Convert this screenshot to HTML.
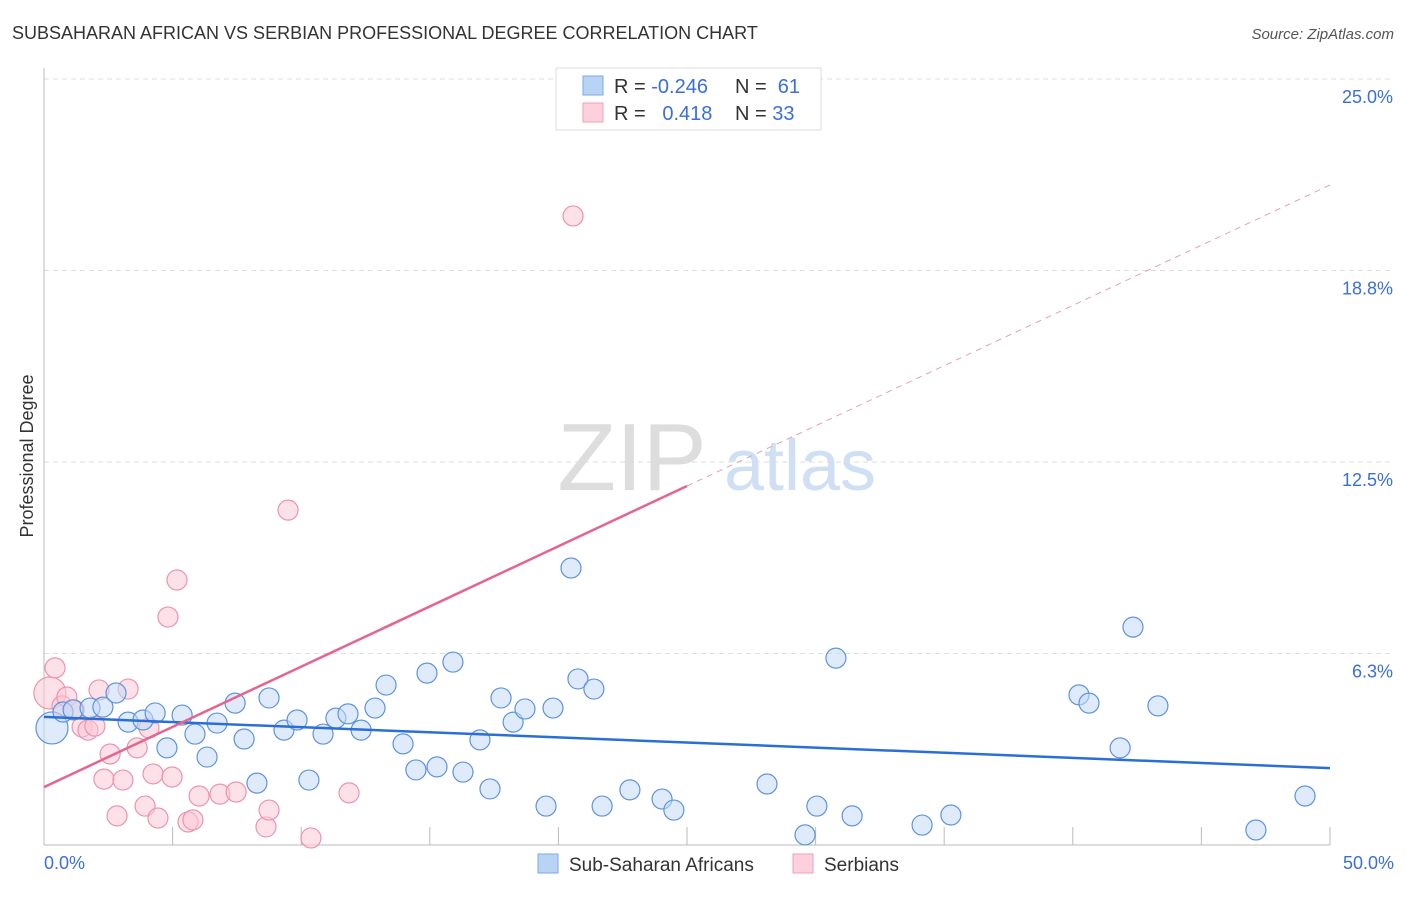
<!DOCTYPE html>
<html><head><meta charset="utf-8"><style>
body{margin:0;background:#fff;font-family:"Liberation Sans",sans-serif}
svg text{font-family:"Liberation Sans",sans-serif}
</style></head><body>
<svg width="1406" height="892" viewBox="0 0 1406 892">
<text x="12" y="39" font-size="18" fill="#333">SUBSAHARAN AFRICAN VS SERBIAN PROFESSIONAL DEGREE CORRELATION CHART</text>
<text x="1394" y="39" font-size="15" fill="#555" text-anchor="end" font-style="italic">Source: ZipAtlas.com</text>
<g>
<text x="632" y="490" font-size="96" fill="#ddd" text-anchor="middle" font-family="Liberation Serif">ZIP</text>
<text x="800" y="490" font-size="72" fill="#cfe0f5" text-anchor="middle">atlas</text>
</g>
<g id="grid"></g>
<g id="axes"></g>
<g id="marks"></g>
<text transform="translate(33,456) rotate(-90)" font-size="18" fill="#333" text-anchor="middle">Professional Degree</text>
<g>
<rect x="556" y="68" width="265" height="62" fill="#fff" stroke="#ddd"/>
<rect x="583" y="76" width="20" height="19" fill="#b9d3f5" stroke="#7aa8e8"/>
<rect x="583" y="103" width="20" height="19" fill="#fcd0dc" stroke="#f0a0b8"/>
<text x="614" y="93" font-size="20" fill="#333">R = <tspan fill="#3a6fd8">-0.246</tspan></text>
<text x="735" y="93" font-size="20" fill="#333">N = <tspan fill="#3a6fd8">&#160;61</tspan></text>
<text x="614" y="120" font-size="20" fill="#333">R = <tspan fill="#3a6fd8">&#160;&#160;0.418</tspan></text>
<text x="735" y="120" font-size="20" fill="#333">N = <tspan fill="#3a6fd8">33</tspan></text>
</g>
<g>
<rect x="538" y="854" width="20" height="19" fill="#b9d3f5" stroke="#7aa8e8"/>
<text x="569" y="871" font-size="19" fill="#333">Sub-Saharan Africans</text>
<rect x="793" y="854" width="20" height="19" fill="#fcd0dc" stroke="#f0a0b8"/>
<text x="824" y="871" font-size="19" fill="#333">Serbians</text>
</g>
</svg>
<script>
const blueX=[0.31,0.74,1.13,1.79,2.29,2.80,3.27,3.85,4.32,4.78,5.37,5.87,6.34,6.73,7.43,7.78,8.28,8.75,9.33,9.84,10.30,10.85,11.35,11.82,12.33,12.87,13.30,13.96,14.46,14.89,15.28,15.90,16.29,16.95,17.34,17.77,18.24,18.70,19.52,19.79,20.49,20.76,21.38,21.70,22.78,24.03,24.49,28.11,29.59,30.05,30.79,31.42,34.14,35.26,40.24,40.63,41.84,42.34,43.31,47.12,49.03];
const blueY=[3.82,4.34,4.41,4.47,4.50,4.96,4.01,4.08,4.31,3.17,4.24,3.62,2.87,3.98,4.63,3.46,2.02,4.80,3.75,4.08,2.12,3.62,4.14,4.28,3.75,4.47,5.22,3.30,2.45,5.61,2.55,5.97,2.38,3.43,1.83,4.80,4.01,4.44,1.27,4.47,9.04,5.42,5.09,1.27,1.80,1.50,1.14,1.99,0.33,1.27,6.10,0.95,0.65,0.98,4.90,4.63,3.17,7.11,4.54,0.49,1.60];
const pinkX=[0.23,0.43,0.70,0.89,1.17,1.48,1.71,1.98,2.14,2.57,2.33,2.84,3.07,3.27,3.62,3.93,4.08,4.24,4.43,4.98,5.17,4.82,5.60,5.79,6.03,6.84,7.47,8.63,8.75,9.49,10.38,11.86,20.57];
const pinkY=[4.96,5.78,4.54,4.83,4.41,3.85,3.75,3.88,5.06,2.97,2.15,0.95,2.12,5.09,3.17,1.27,3.82,2.32,0.88,2.22,8.65,7.44,0.75,0.82,1.60,1.66,1.73,0.59,1.14,10.93,0.23,1.70,20.53];
const blueTrend=[4.18,2.51];
const pinkTrend=[1.89,21.54];
const yTicks=[6.3,12.5,18.8,25.0];
const yTickVals=[6.25,12.5,18.75,25];
const xTicks=[0,5,10,15,20,25,30,35,40,45,50];
const NS='http://www.w3.org/2000/svg';
const X=v=>44+v/50*1286, Y=v=>845-v/25*766;
function mk(t,a,p){const e=document.createElementNS(NS,t);for(const k in a)e.setAttribute(k,a[k]);p.appendChild(e);return e;}
const grid=document.getElementById('grid'),axes=document.getElementById('axes'),marks=document.getElementById('marks');
yTickVals.forEach((v,i)=>{
 const l=mk('line',{x1:44,x2:1394,y1:Y(v),y2:Y(v),stroke:'#ddd','stroke-dasharray':'5,4'},grid);
 
 
 const t=mk('text',{x:1393,y:Y(v)+24,'font-size':18,fill:'#3a6fd8','text-anchor':'end'},axes);
 t.textContent=yTicks[i].toFixed(1)+'%';
 
 
});
const ax=mk('line',{x1:44,x2:44,y1:68,y2:845,stroke:'#bbb'},axes);


const bx=mk('line',{x1:44,x2:1330,y1:845,y2:845,stroke:'#bbb'},axes);


xTicks.forEach(v=>{
 const l=mk('line',{x1:X(v),x2:X(v),y1:827,y2:845,stroke:'#bbb'},axes);
 
 
});
[[0,'0.0%','start',44],[50,'50.0%','end',1394]].forEach(a=>{
 const t=mk('text',{x:a[3],y:869,'font-size':18,fill:'#3a6fd8','text-anchor':a[2]},axes);
 t.textContent=a[1];
 
 
});
function dots(xs,ys,fill,stroke,name){
 xs.forEach((x,i)=>{
  const c=mk('circle',{cx:X(x),cy:Y(ys[i]),r:i===0?16:10,fill:fill,'fill-opacity':0.55,stroke:stroke,'stroke-width':1.2},marks);
  
  
 });
}
dots(pinkX,pinkY,'#fbc8d6','#ec93ae','serbian-point');
dots(blueX,blueY,'#c4daf6','#5d93de','subsaharan-point');
const bl=mk('line',{x1:X(0),y1:Y(blueTrend[0]),x2:X(50),y2:Y(blueTrend[1]),stroke:'#2a6fd6','stroke-width':2.5},marks);


const pm=(pinkTrend[0]+pinkTrend[1])/2;
const ps=mk('line',{x1:X(0),y1:Y(pinkTrend[0]),x2:X(25),y2:Y(pm),stroke:'#e5658e','stroke-width':2.5},marks);


const pd=mk('line',{x1:X(25),y1:Y(pm),x2:X(50),y2:Y(pinkTrend[1]),stroke:'#e5a0b6','stroke-width':1,'stroke-dasharray':'6,5'},marks);


</script>
</body></html>
